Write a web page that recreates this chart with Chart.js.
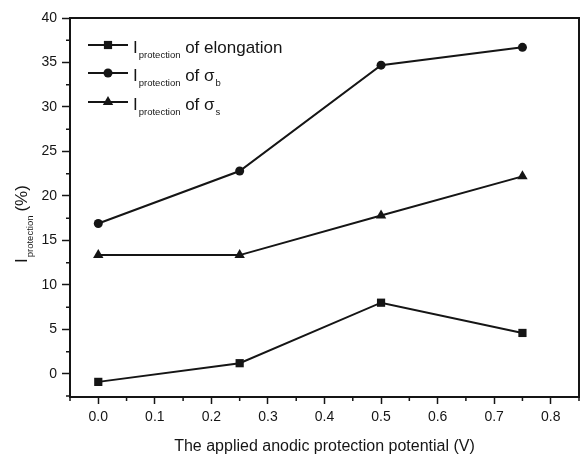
<!DOCTYPE html>
<html>
<head>
<meta charset="utf-8">
<script src="https://cdn.jsdelivr.net/npm/chart.js@4/dist/chart.umd.min.js"></script>
<style>
  body { margin: 0; background: #fff; }
</style>
</head>
<body>
<canvas id="chart" width="581" height="457"></canvas>
<script>
const potentials = [0, 0.25, 0.5, 0.75];
const elongation = [-0.9, 1.2, 8.0, 4.6];
const sigmaB = [16.9, 22.8, 34.7, 36.7];
const sigmaS = [13.35, 13.35, 17.8, 22.2];

const xTicks = [0, 0.1, 0.2, 0.3, 0.4, 0.5, 0.6, 0.7, 0.8];
const xMinor = [-0.05, 0.05, 0.15, 0.25, 0.35, 0.45, 0.55, 0.65, 0.75, 0.85];
const yTicks = [0, 5, 10, 15, 20, 25, 30, 35, 40];
const yMinor = [-2.5, 2.5, 7.5, 12.5, 17.5, 22.5, 27.5, 32.5, 37.5];

const INK = '#151515';
const FONT = '"Liberation Sans", Arial, sans-serif';

const toPoints = ys => potentials.map((x, i) => ({ x: x, y: ys[i] }));

const series = [
    { label: 'elongation', sub: null, values: elongation, style: 'rect', radius: 5.8 },
    { label: 'σ', sub: 'b', values: sigmaB, style: 'circle', radius: 4.5 },
    { label: 'σ', sub: 's', values: sigmaS, style: 'triangle', radius: 6 }
];

// draws text pieces one after another, some of them as subscripts
function richText(ctx, parts, x, y) {
    let cx = x;
    parts.forEach(p => {
        ctx.font = p.size + 'px ' + FONT;
        ctx.fillText(p.t, cx, y + (p.dy || 0));
        cx += ctx.measureText(p.t).width + (p.gap || 0);
    });
}

function marker(ctx, style, x, y, r) {
    ctx.beginPath();
    if (style === 'rect') {
        const s = r / Math.SQRT2;
        ctx.rect(x - s, y - s, 2 * s, 2 * s);
    } else if (style === 'circle') {
        ctx.arc(x, y, r, 0, Math.PI * 2);
    } else {
        const w = r * Math.sqrt(3) / 2;
        ctx.moveTo(x, y - r);
        ctx.lineTo(x + w, y + r / 2);
        ctx.lineTo(x - w, y + r / 2);
        ctx.closePath();
    }
    ctx.fill();
}

const decorations = {
    id: 'decorations',
    afterDraw(chart) {
        const ctx = chart.ctx;
        const a = chart.chartArea;
        const xs = chart.scales.x, ys = chart.scales.y;
        ctx.save();
        ctx.strokeStyle = INK;
        ctx.fillStyle = INK;

        // top and right frame
        ctx.lineWidth = 2;
        ctx.beginPath();
        ctx.moveTo(a.left, a.top);
        ctx.lineTo(a.right, a.top);
        ctx.lineTo(a.right, a.bottom);
        ctx.stroke();

        // minor ticks
        ctx.lineWidth = 1.5;
        ctx.beginPath();
        xMinor.forEach(v => {
            const px = xs.getPixelForValue(v);
            ctx.moveTo(px, a.bottom);
            ctx.lineTo(px, a.bottom + 4);
        });
        yMinor.forEach(v => {
            const py = ys.getPixelForValue(v);
            ctx.moveTo(a.left, py);
            ctx.lineTo(a.left - 4, py);
        });
        ctx.stroke();

        // y axis title
        ctx.save();
        ctx.translate(27, 263);
        ctx.rotate(-Math.PI / 2);
        richText(ctx, [
            { t: 'I', size: 17, gap: 1 },
            { t: 'protection', size: 9.5, dy: 6, gap: 4 },
            { t: '(%)', size: 17 }
        ], 0, 0);
        ctx.restore();

        // legend
        const rows = [45, 73, 102];
        series.forEach((s, i) => {
            const y = rows[i];
            ctx.lineWidth = 2;
            ctx.beginPath();
            ctx.moveTo(88, y);
            ctx.lineTo(128, y);
            ctx.stroke();
            marker(ctx, s.style, 108, y, s.radius);
            const parts = [
                { t: 'I', size: 17, gap: 1 },
                { t: 'protection', size: 9.5, dy: 5, gap: 0 },
                { t: ' of ' + s.label, size: 17, gap: 1 }
            ];
            if (s.sub) parts.push({ t: s.sub, size: 9.5, dy: 5 });
            richText(ctx, parts, 133, y + 8);
        });
        ctx.restore();
    }
};

new Chart(document.getElementById('chart').getContext('2d'), {
    type: 'scatter',
    data: {
        datasets: series.map(s => ({
            label: s.label,
            data: toPoints(s.values),
            showLine: true,
            borderColor: INK,
            backgroundColor: INK,
            borderWidth: 2,
            pointStyle: s.style,
            pointRadius: s.radius,
            pointBorderWidth: 0,
            tension: 0
        }))
    },
    options: {
        responsive: false,
        animation: false,
        layout: { autoPadding: false, padding: { top: 18, right: 2, left: 0, bottom: 0 } },
        plugins: {
            legend: { display: false },
            tooltip: { enabled: false }
        },
        scales: {
            x: {
                type: 'linear',
                min: -0.05,
                max: 0.85,
                afterBuildTicks: scale => { scale.ticks = xTicks.map(v => ({ value: v })); },
                afterFit: scale => {
                    scale.height = 60;
                    scale.paddingLeft = 0;
                    scale.paddingRight = 0;
                },
                ticks: {
                    autoSkip: false,
                    maxRotation: 0,
                    padding: 5,
                    color: INK,
                    font: { family: FONT, size: 14 },
                    callback: v => v.toFixed(1)
                },
                grid: { drawOnChartArea: false, tickLength: 7, tickWidth: 1.5, tickColor: INK },
                border: { color: INK, width: 2 },
                title: {
                    display: true,
                    text: 'The applied anodic protection potential (V)',
                    color: INK,
                    font: { family: FONT, size: 16 },
                    padding: { top: 0, bottom: 1 }
                }
            },
            y: {
                min: -2.6,
                max: 40,
                afterBuildTicks: scale => { scale.ticks = yTicks.map(v => ({ value: v })); },
                afterFit: scale => {
                    scale.width = 70;
                    scale.paddingTop = 0;
                    scale.paddingBottom = 0;
                },
                ticks: {
                    padding: 5,
                    color: INK,
                    font: { family: FONT, size: 14 },
                    callback: v => String(v)
                },
                grid: { drawOnChartArea: false, tickLength: 8, tickWidth: 1.5, tickColor: INK },
                border: { color: INK, width: 2 }
            }
        }
    },
    plugins: [decorations]
});
</script>
</body>
</html>
